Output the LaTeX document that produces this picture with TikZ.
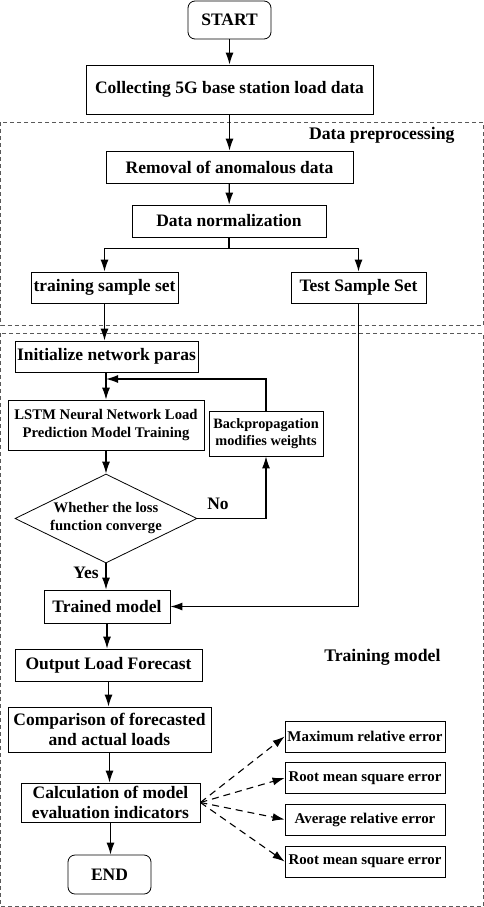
\documentclass[tikz,border=0pt]{standalone}
\usepackage{fontspec}
\setmainfont{Liberation Serif}
\usetikzlibrary{shapes.geometric, arrows.meta}

\tikzset{
  box/.style={draw, line width=0.8pt, inner sep=0pt, align=center},
  term/.style={box, rounded corners=7pt},
  dec/.style={draw, diamond, aspect=2, line width=0.8pt, inner sep=0pt, align=center,
    font=\bfseries\fontsize{14.6}{18}\selectfont},
  errbox/.style={box, minimum width=160, minimum height=31,
    font=\bfseries\fontsize{14.9}{17}\selectfont},
  frame/.style={draw=black!65, dash pattern=on 4pt off 3pt, line width=0.6pt},
  flow/.style={->, line width=1.2pt},
  dasharrow/.style={->, line width=1.1pt, dash pattern=on 7pt off 5pt}
}

\begin{document}
\begin{tikzpicture}[x=1pt, y=-1pt, >={Latex[length=12pt, width=8pt]}, font=\bfseries\fontsize{17.5}{20}\selectfont]
		\useasboundingbox (0,0) rectangle (484,907);
		
		% Dashed frames
		\draw[frame] (0.6,122) rectangle (483.4,325);
		\draw[frame] (0.6,333) rectangle (483.4,906.4);
		\node[anchor=east, font=\bfseries\fontsize{17.7}{20}\selectfont] (prep) at (458,135) {Data preprocessing};
		\node[anchor=east, font=\bfseries\fontsize{17.7}{20}\selectfont] (trainmodel) at (444,657) {Training model};
		
		% Data preparation
		\node[term, minimum width=83, minimum height=38] (start) at (229.5,20) {START};
		\node[box, minimum width=287, minimum height=49] (collect) at (229.5,89.5) {Collecting 5G base station load data};
		\node[box, minimum width=247, minimum height=32] (remove) at (229.5,167) {Removal of anomalous data};
		\node[box, minimum width=194, minimum height=32] (norm) at (229,221) {Data normalization};
		\node[box, minimum width=147, minimum height=31] (trainset) at (104.5,287.5) {training sample set};
		\node[box, minimum width=135, minimum height=31] (testset) at (358.5,287.5) {Test Sample Set};
		
		% Training loop
		\node[box, minimum width=183, minimum height=31] (init) at (106.5,356.5) {Initialize network paras};
		\node[box, minimum width=196, minimum height=50, font=\bfseries\fontsize{14.7}{18}\selectfont] (lstm) at (106,425) {LSTM Neural Network Load\\Prediction Model Training};
		\node[box, minimum width=114, minimum height=45, font=\bfseries\fontsize{14.3}{17}\selectfont] (backprop) at (266,433.5) {Backpropagation\\modifies weights};
		\node[dec, minimum width=182, minimum height=89] (converge) at (106,518.5) {Whether the loss\\function converge};
		\node (no) at (218,504) {No};
		\node (yes) at (86,573) {Yes};
		\coordinate (loopin) at (106,379);
		
		% Evaluation
		\node[box, minimum width=126, minimum height=33] (trained) at (107,606.5) {Trained model};
		\node[box, minimum width=187, minimum height=32] (output) at (108.5,665) {Output Load Forecast};
		\node[box, minimum width=203, minimum height=45] (compare) at (109.5,729.5) {Comparison of forecasted\\and actual loads};
		\node[box, minimum width=179, minimum height=39] (calc) at (110.5,802.5) {Calculation of model\\evaluation indicators};
		\node[term, minimum width=83, minimum height=39] (end) at (109.5,874.5) {END};
		
		% Indicators
		\node[errbox] (maxerr) at (365,736.5) {Maximum relative error};
		\node[errbox] (rmse) at (365,778) {Root mean square error};
		\node[errbox] (avgerr) at (365,819.5) {Average relative error};
		\node[errbox] (rmseb) at (365,861.5) {Root mean square error};
		
		% Connectors
		\draw[flow] (start) -- (collect);
		\draw[flow] (collect) -- (remove);
		\draw[flow] (remove) -- (norm);
		\draw[line width=1.2pt] (norm.south) -- ++(0,11) coordinate (split);
		\draw[flow] (split) -| (trainset.north);
		\draw[flow] (split) -| (testset.north);
		\draw[flow] (trainset.south) -- (trainset.south |- init.north);
		\draw[flow] (init.south -| lstm) -- (lstm);
		\draw[flow] (lstm) -- (converge);
		\draw[flow] (converge.east) -| (backprop.south);
		\draw[flow] (backprop.north) |- (loopin);
		\draw[flow] (converge) -- (converge.south |- trained.north);
		\draw[flow] (testset.south) |- (trained.east);
		\draw[flow] (trained) -- (trained |- output.north);
		\draw[flow] (output) -- (output |- compare.north);
		\draw[flow] (compare) -- (compare |- calc.north);
		\draw[flow] (calc) -- (calc |- end.north);
		\draw[dasharrow] (calc.east) -- (maxerr.west);
		\draw[dasharrow] (calc.east) -- (rmse.west);
		\draw[dasharrow] (calc.east) -- (avgerr.west);
		\draw[dasharrow] (calc.east) -- (rmseb.west);
	\end{tikzpicture}
\end{document}
